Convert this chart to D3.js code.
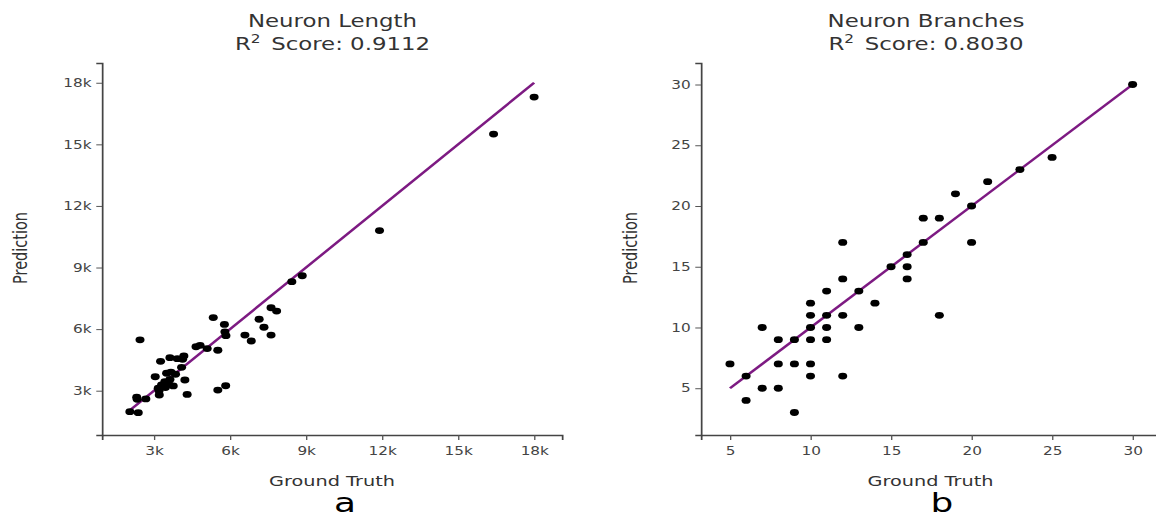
<!DOCTYPE html>
<html><head><meta charset="utf-8">
<script src="https://cdn.jsdelivr.net/npm/d3@7"></script>
<style>body{margin:0;background:#fff} text{font-family:"DejaVu Sans",Verdana,sans-serif}</style>
</head><body><svg id="c" width="1156" height="519"></svg>
<script>
// ---- data ----
const lengthTruth = [18000,16400,11900,8850,8440,7620,7840,7150,7340,7620,6590,6840,5340,5780,5800,5840,5520,5100,4820,4660,2450,4180,4130,3920,3630,3260,4090,3670,3500,3050,4220,3630,3430,3300,3760,3170,3210,4310,5520,5830,2320,2340,2680,2050,2380,3570,3450,3850,3200];
const lengthPred  = [17300,15500,10800,8600,8310,7040,6880,6480,6090,5710,5710,5420,6560,6230,5870,5680,4970,5050,5210,5140,5480,4690,4530,4560,4610,4430,4140,3900,3850,3680,3520,3550,3440,3280,3230,3120,2790,2820,3030,3240,2680,2580,2600,1980,1930,3360,3150,3800,3000];
const branchTruth = [30,25,23,21,19,20,20,17,18,17,12,16,15,16,16,12,11,13,14,10,10,11,12,18,7,10,11,13,8,9,10,11,5,8,9,10,6,10,12,7,8,6,9];
const branchPred  = [30,24,23,22,21,20,17,19,19,17,17,16,15,15,14,14,13,13,12,12,11,11,11,11,10,10,10,10,9,9,9,9,7,7,7,7,6,6,6,5,5,4,3];
const lengthTicks = [3000,6000,9000,12000,15000,18000];
const branchTicks = [5,10,15,20,25,30];
const titles = ["Neuron Length","Neuron Branches"];
const scores = ["0.9112","0.8030"];
const letters = ["a","b"];
const xLabel = "Ground Truth", yLabel = "Prediction";

// ---- layout (virtual coords, stretched horizontally) ----
const S = 1.33;
const svg = d3.select("#c");
const root = svg.append("g").attr("transform", `scale(${S},1)`);
const plotTop = 63, plotBottom = 435;

const panels = [
  {truth: lengthTruth, pred: lengthPred, ticks: lengthTicks, fmt: d => d/1000 + "k",
   xd: [950,19100], yd: [842,18962], x0: 102/S, x1: 562/S, lineStart: 2050, lineEnd: 18000},
  {truth: branchTruth, pred: branchPred, ticks: branchTicks, fmt: d => d,
   xd: [3.2,31.7], yd: [1.15,31.77], x0: 701/S, x1: 1160/S, lineStart: 5, lineEnd: 30}
];

panels.forEach((p, i) => {
  const x = d3.scaleLinear().domain(p.xd).range([p.x0, p.x1]);
  const y = d3.scaleLinear().domain(p.yd).range([plotBottom, plotTop]);
  const g = root.append("g");

  // axes
  const xa = g.append("g").attr("transform", `translate(0,${plotBottom})`)
    .call(d3.axisBottom(x).tickValues(p.ticks).tickFormat(p.fmt).tickSizeOuter(0).tickSize(5).tickPadding(7));
  const ya = g.append("g").attr("transform", `translate(${p.x0},0)`)
    .call(d3.axisLeft(y).tickValues(p.ticks).tickFormat(p.fmt).tickSizeOuter(0).tickSize(4.3).tickPadding(3.5));
  [xa, ya].forEach(a => {
    a.select(".domain").attr("stroke", "#444").attr("stroke-width", 1.3);
    a.selectAll(".tick line").attr("stroke", "#555").attr("stroke-width", 1);
    a.selectAll(".tick text").attr("fill", "#444").style("font-size", "11.5px").style("font-family", '"DejaVu Sans",Verdana,sans-serif');
  });

  // identity line
  const line = d3.line().x(d => x(d)).y(d => y(d));
  g.append("path").datum([p.lineStart, p.lineEnd]).attr("d", line)
    .attr("stroke", "#7d1a82").attr("stroke-width", 2.2).attr("fill", "none");

  // points
  g.selectAll("circle.pt").data(p.truth.map((t, k) => [t, p.pred[k]])).join("circle")
    .attr("class", "pt").attr("cx", d => x(d[0])).attr("cy", d => y(d[1])).attr("r", 3.4).attr("fill", "#000");

  const cx = (p.x0 + p.x1) / 2;
  const tc = i === 0 ? 332.5 / S : 926 / S;
  // titles
  g.append("text").attr("x", tc).attr("y", 27).attr("text-anchor", "middle")
    .attr("fill", "#333").style("font-size", "17.2px").text(titles[i]);
  const t2 = g.append("text").attr("x", tc).attr("y", 50).attr("text-anchor", "middle")
    .attr("fill", "#333").style("font-size", "17.2px");
  t2.append("tspan").text("R");
  t2.append("tspan").attr("dy", -7).style("font-size", "11.5px").text("2");
  t2.append("tspan").attr("dy", 7).attr("dx", 8).text("Score: " + scores[i]);

  // axis labels
  g.append("text").attr("x", cx).attr("y", 486).attr("text-anchor", "middle")
    .attr("fill", "#333").style("font-size", "14.5px").text(xLabel);
  const yx = i === 0 ? 20.5 / S : 630.7 / S;
  g.append("text").attr("transform", `translate(${yx},248) rotate(-90)`).attr("text-anchor", "middle")
    .attr("dy", "0.35em").attr("fill", "#333").style("font-size", "14.5px").text(yLabel);

  // panel letter
  const lx = i === 0 ? 345 / S : 942 / S;
  g.append("text").attr("x", lx).attr("y", 512).attr("text-anchor", "middle")
    .attr("fill", "#000").style("font-size", "27px").text(letters[i]);
});
</script></body></html>
